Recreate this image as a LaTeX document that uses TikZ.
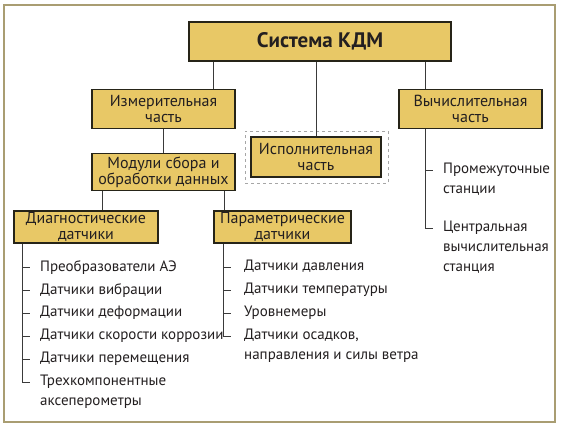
\documentclass[tikz,border=0pt]{standalone}
\usepackage{fontspec}
\setmainfont{PT Sans}
\usetikzlibrary{calc}
\definecolor{boxfill}{HTML}{E8C866}
\definecolor{boxline}{HTML}{262418}
\definecolor{framecol}{HTML}{A99D72}
\definecolor{linecol}{HTML}{3A3A3A}
\definecolor{txtcol}{HTML}{231F20}

\begin{document}
\begin{tikzpicture}[x=1pt,y=-1pt,
    blk/.style={draw=boxline,line width=1.8pt,fill=boxfill,align=center,inner sep=0pt,
      text=txtcol,font=\fontsize{16}{16}\selectfont},
    item/.style={anchor=north west,align=left,inner sep=0pt,text=txtcol,
      font=\fontsize{15}{20}\selectfont},
    conn/.style={draw=linecol,line width=0.9pt}]
        \useasboundingbox (0,0) rectangle (561,428);
        \fill[white] (0,0) rectangle (561,428);
        \draw[framecol,line width=2pt] (4,5) rectangle (555,422);
        % boxes
        \node[blk,minimum width=262pt,minimum height=39pt,
          font=\fontsize{21}{22}\selectfont\bfseries] (sys) at (320,41.5) {Система КДМ};
        \node[blk,minimum width=143pt,minimum height=39pt] (izm) at (163.5,109) {Измерительная\\часть};
        \node[blk,minimum width=143pt,minimum height=39pt] (vych) at (470.5,109) {Вычислительная\\часть};
        \node[draw=gray!70,dashed,line width=0.8pt,minimum width=143pt,minimum height=52pt] (ispfr) at (316.5,157) {};
        \node[blk,minimum width=130pt,minimum height=40pt] (isp) at (316,157) {Исполнительная\\часть};
        \node[blk,minimum width=143pt,minimum height=37pt] (mod) at (163.5,172) {Модули сбора и\\обработки данных};
        \node[blk,minimum width=144pt,minimum height=32pt] (diag) at (86,227) {Диагностические\\датчики};
        \node[blk,minimum width=137pt,minimum height=32pt] (par) at (282.5,227) {Параметрические\\датчики};
        % connectors between boxes
        \draw[conn] ([xshift=-22pt]izm.north east |- sys.south) -- ([xshift=-22pt]izm.north east);
        \draw[conn] (sys.south -| isp.north) -- (isp.north);
        \draw[conn] ([xshift=27pt]vych.north west |- sys.south) -- ([xshift=27pt]vych.north west);
        \draw[conn] (izm.south) -- (mod.north);
        \draw[conn] ([xshift=11pt]mod.south west) -- ([xshift=11pt]mod.south west |- diag.north);
        \draw[conn] ([xshift=-11pt]mod.south east) -- ([xshift=-11pt]mod.south east |- par.north);
        % lists
        \coordinate (dtrunk) at ([xshift=9pt]diag.south west);
        \coordinate (ptrunk) at ([xshift=10pt]par.south west);
        \coordinate (vtrunk) at ([xshift=27pt]vych.south west);
        \foreach \i/\txt in {1/Преобразователи АЭ, 2/Датчики вибрации, 3/Датчики деформации,
            4/Датчики скорости коррозии, 5/Датчики перемещения, 6/{Трехкомпонентные\\аксеперометры}}
          \node[item] (d\i) at (40,{260+23*(\i-1)}) {\txt};
        \foreach \i/\txt in {1/Датчики давления, 2/Датчики температуры, 3/Уровнемеры,
            4/{Датчики осадков,\\направления и силы ветра}}
          \node[item] (p\i) at (244,{260+23*(\i-1)}) {\txt};
        \node[item] (v1) at (443,163) {Промежуточные\\станции};
        \node[item] (v2) at (443,221) {Центральная\\вычислительная\\станция};
        \foreach \i in {1,...,5}
          \draw[conn] ($(d\i.north west -| dtrunk)+(0,7)$) -- ++(8,0);
        \draw[conn] (dtrunk) |- ($(d6.north west -| dtrunk)+(8,7)$);
        \foreach \i in {1,...,3}
          \draw[conn] ($(p\i.north west -| ptrunk)+(0,7)$) -- ++(8,0);
        \draw[conn] (ptrunk) |- ($(p4.north west -| ptrunk)+(8,7)$);
        \draw[conn] ($(v1.north west -| vtrunk)+(0,7)$) -- ++(8,0);
        \draw[conn] (vtrunk) |- ($(v2.north west -| vtrunk)+(8,7)$);
    \end{tikzpicture}
\end{document}
